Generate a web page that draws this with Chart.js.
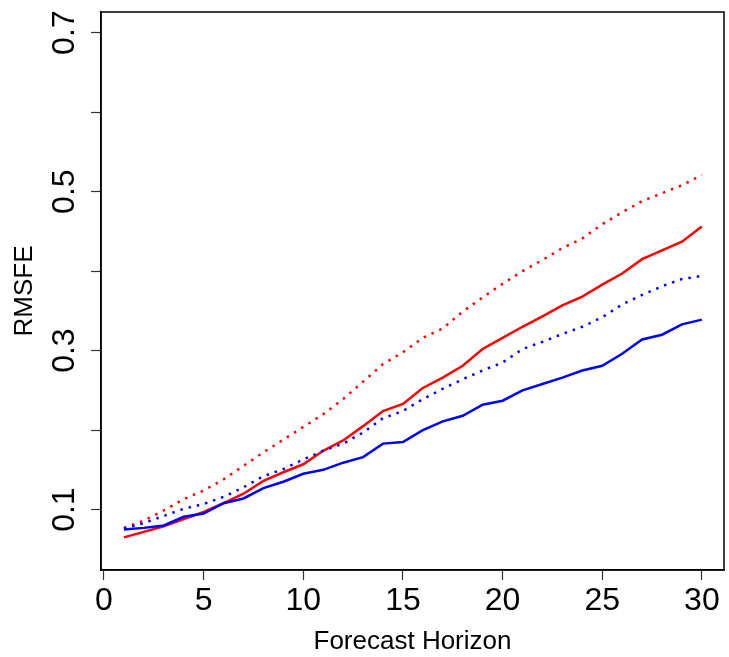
<!DOCTYPE html>
<html>
<head>
<meta charset="utf-8">
<script src="https://cdn.jsdelivr.net/npm/chart.js@4"></script>
<style>
    body { margin: 0; background: #fff; }
    #wrap { width: 729px; height: 657px; }
</style>
</head>
<body>
<div id="wrap"><canvas id="rmsfeChart" width="729" height="657"></canvas></div>
<script>
const horizons = [1, 2, 3, 4, 5, 6, 7, 8, 9, 10, 11, 12, 13, 14, 15, 16, 17, 18, 19, 20, 21, 22, 23, 24, 25, 26, 27, 28, 29, 30];
const redSolid = [0.065, 0.072, 0.079, 0.088, 0.097, 0.108, 0.120, 0.136, 0.147, 0.157, 0.174, 0.187, 0.205, 0.224, 0.233, 0.253, 0.266, 0.281, 0.302, 0.316, 0.330, 0.343, 0.357, 0.368, 0.383, 0.397, 0.415, 0.426, 0.437, 0.456];
const redDotted = [0.077, 0.086, 0.099, 0.113, 0.124, 0.138, 0.155, 0.172, 0.188, 0.204, 0.220, 0.239, 0.261, 0.283, 0.298, 0.316, 0.328, 0.349, 0.367, 0.384, 0.400, 0.414, 0.429, 0.441, 0.459, 0.474, 0.488, 0.498, 0.508, 0.521];
const blueSolid = [0.075, 0.077, 0.080, 0.091, 0.095, 0.108, 0.114, 0.127, 0.135, 0.145, 0.150, 0.159, 0.166, 0.183, 0.185, 0.200, 0.211, 0.218, 0.232, 0.237, 0.250, 0.258, 0.266, 0.275, 0.281, 0.296, 0.314, 0.320, 0.333, 0.339];
const blueDotted = [0.076, 0.083, 0.092, 0.101, 0.107, 0.116, 0.128, 0.142, 0.151, 0.163, 0.174, 0.183, 0.197, 0.215, 0.224, 0.239, 0.252, 0.264, 0.275, 0.285, 0.302, 0.311, 0.321, 0.330, 0.342, 0.358, 0.370, 0.381, 0.390, 0.394];
const xTicks = [0, 5, 10, 15, 20, 25, 30];
const yTicks = [0.1, 0.2, 0.3, 0.4, 0.5, 0.6, 0.7];
const yTickLabels = ['0.1', '0.3', '0.5', '0.7'];

const FONT = "'Liberation Sans', Arial, sans-serif";

function toPoints(values) {
    return horizons.map((h, i) => ({ x: h, y: values[i] }));
}

function lineSet(label, values, color, dotted) {
    return {
        label: label,
        data: toPoints(values),
        borderColor: color,
        borderWidth: 2.5,
        borderDash: dotted ? [2.5, 6] : [],
        borderCapStyle: 'butt',
        pointRadius: 0,
        fill: false,
        tension: 0
    };
}

// box around the plot region plus the rotated y labels (R style)
const frameAndLabels = {
    id: 'frameAndLabels',
    afterDraw(chart) {
        const ctx = chart.ctx;
        const area = chart.chartArea;
        const yScale = chart.scales.y;
        ctx.save();
        ctx.strokeStyle = '#000';
        ctx.lineWidth = 1.5;
        ctx.strokeRect(area.left, area.top, area.right - area.left, area.bottom - area.top);

        ctx.fillStyle = '#000';
        ctx.font = '32px ' + FONT;
        ctx.textAlign = 'center';
        ctx.textBaseline = 'alphabetic';
        yTickLabels.forEach(lab => {
            const py = yScale.getPixelForValue(parseFloat(lab));
            ctx.save();
            ctx.translate(74, py);
            ctx.rotate(-Math.PI / 2);
            ctx.fillText(lab, 0, 0);
            ctx.restore();
        });
        ctx.restore();
    }
};

new Chart(document.getElementById('rmsfeChart'), {
    type: 'line',
    data: {
        datasets: [
            lineSet('Blue solid', blueSolid, '#0000FF', false),
            lineSet('Blue dotted', blueDotted, '#0000FF', true),
            lineSet('Red solid', redSolid, '#FF0000', false),
            lineSet('Red dotted', redDotted, '#FF0000', true)
        ]
    },
    options: {
        responsive: false,
        devicePixelRatio: 1,
        animation: false,
        layout: { padding: { left: 0, right: 5, top: 12, bottom: 0 } },
        plugins: {
            legend: { display: false },
            tooltip: { enabled: false }
        },
        scales: {
            x: {
                type: 'linear',
                min: -0.15,
                max: 31.11,
                afterBuildTicks: scale => { scale.ticks = xTicks.map(v => ({ value: v })); },
                afterFit: scale => { scale.height = 87; },
                grid: { drawOnChartArea: false, drawTicks: true, tickLength: 10, tickColor: '#333', tickWidth: 1.2 },
                border: { display: true, color: '#000', width: 1.5 },
                ticks: {
                    color: '#000',
                    font: { family: FONT, size: 32 },
                    padding: 2,
                    maxRotation: 0,
                    autoSkip: false,
                    callback: v => String(v)
                },
                title: {
                    display: true,
                    text: 'Forecast Horizon',
                    color: '#000',
                    font: { family: FONT, size: 26 },
                    padding: { top: 0, bottom: 0 }
                }
            },
            y: {
                type: 'linear',
                min: 0.024,
                max: 0.726,
                afterBuildTicks: scale => { scale.ticks = yTicks.map(v => ({ value: v })); },
                afterFit: scale => { scale.width = 101; },
                grid: { drawOnChartArea: false, drawTicks: true, tickLength: 10, tickColor: '#333', tickWidth: 1.2 },
                border: { display: true, color: '#000', width: 1.5 },
                ticks: { display: false },
                title: {
                    display: true,
                    text: 'RMSFE',
                    color: '#000',
                    font: { family: FONT, size: 26 },
                    padding: { top: 9, bottom: 0 }
                }
            }
        }
    },
    plugins: [frameAndLabels]
});
</script>
</body>
</html>
